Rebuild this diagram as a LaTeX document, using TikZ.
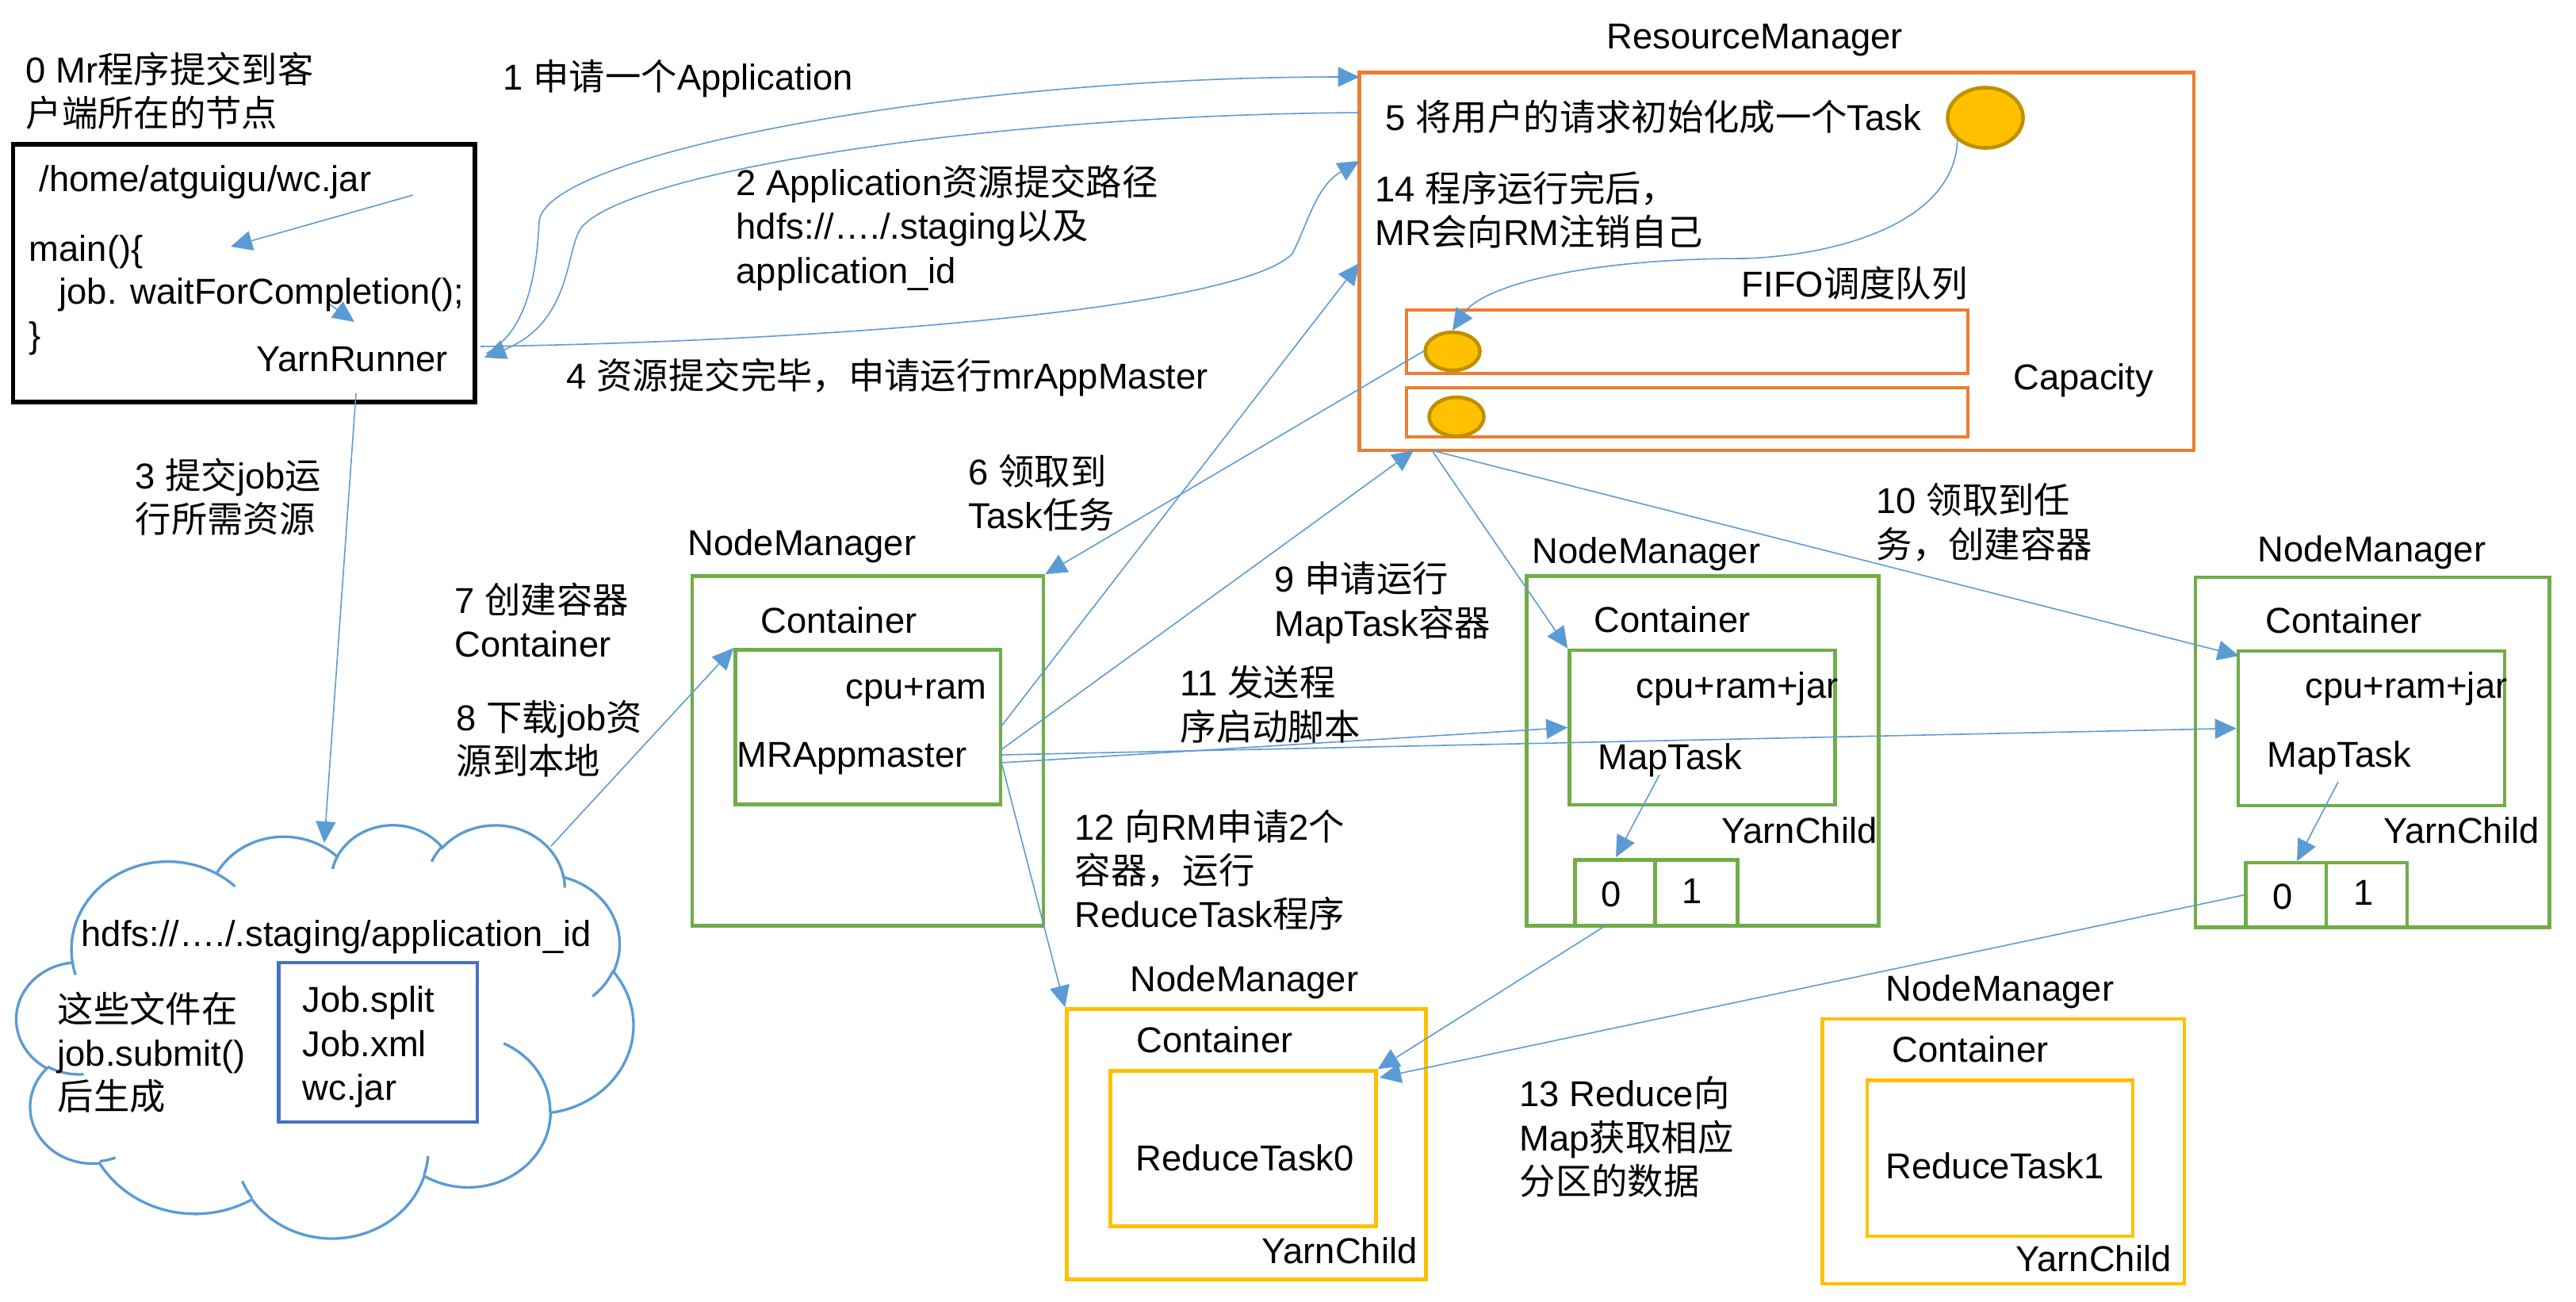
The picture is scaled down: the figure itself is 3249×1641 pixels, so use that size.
\documentclass[tikz,border=0pt]{standalone}
\usepackage{fontspec}
\setmainfont{Liberation Sans}
\newfontfamily\zhfont{Noto Sans CJK SC}
\newcommand\zh[1]{{\zhfont #1}}
\newcommand\fs{\fontsize{12.9pt}{15.65pt}\selectfont}
\usetikzlibrary{arrows.meta,fit,shapes.geometric}
\definecolor{orng}{HTML}{ED7D31}
\definecolor{grn}{HTML}{70AD47}
\definecolor{ylw}{HTML}{FFC000}
\definecolor{lblue}{HTML}{5B9BD5}
\definecolor{dblue}{HTML}{4472C4}
\definecolor{gold}{HTML}{BF9000}
\tikzset{
  conn/.style={draw=lblue, line width=0.45pt, -{Triangle[length=0.27cm,width=0.25cm]}},
  lbl/.style={inner sep=0pt, anchor=base west, align=left, font=\fs},
  frame/.style={inner sep=0pt, draw=#1, line width=1.3pt},
  dotnode/.style={ellipse, inner sep=0pt, fill=ylw, draw=gold, line width=1.3pt},
}
\begin{document}
\begin{tikzpicture}[x=0.01cm, y=-0.01cm]
\useasboundingbox (0,0) rectangle (3249,1641);

% ---------- boxes ----------
\node[inner sep=0pt, draw=black, line width=1.45pt, fit={(16.5,182) (599,507)}] (client) {};
\node[frame=orng, fit={(1714.5,91.5) (2767,568)}] (rm) {};
\node[frame=orng, fit={(1774,391) (2482,471)}] (q1) {};
\node[frame=orng, fit={(1774,489) (2482,551)}] (q2) {};
\node[dotnode, minimum width=0.95cm, minimum height=0.76cm] (task) at (2504,148.5) {};
\node[dotnode, minimum width=0.69cm, minimum height=0.48cm] (q1c) at (1832,443) {};
\node[dotnode, minimum width=0.69cm, minimum height=0.49cm] (q2c) at (1837,525.5) {};

\node[frame=grn, fit={(873,726.5) (1316,1167.5)}] (nm1) {};
\node[frame=grn, fit={(927.5,819.5) (1262,1014.5)}] (mra) {};

\node[frame=grn, fit={(1925.5,726.5) (2369.5,1167.5)}] (nm2) {};
\node[frame=grn, fit={(1979.5,820) (2314.5,1015)}] (nm2in) {};
\node[frame=grn, fit={(1986.5,1084.5) (2087.5,1167.5)}] (nm2c0) {};
\node[frame=grn, fit={(2087.5,1084.5) (2191.5,1167.5)}] (nm2c1) {};

\node[frame=grn, fit={(2768.8,727.8) (3215.5,1169.5)}] (nm3) {};
\node[frame=grn, fit={(2823,821) (3158.8,1016)}] (nm3in) {};
\node[frame=grn, fit={(2832.4,1088) (2934,1169.5)}] (nm3c0) {};
\node[frame=grn, fit={(2934,1088) (3035.8,1169.5)}] (nm3c1) {};

\node[frame=ylw, fit={(1345.5,1272.5) (1798.5,1613.5)}] (nm4) {};
\node[frame=ylw, fit={(1400.5,1350.5) (1735.5,1546.5)}] (rt0) {};
\node[frame=ylw, fit={(2298.7,1285) (2754.8,1619)}] (nm5) {};
\node[frame=ylw, fit={(2354.8,1362.5) (2690,1559)}] (rt1) {};

% ---------- cloud ----------
\begin{scope}[shift={(21,1039)}, x=0.017986cm, y=-0.01206cm]
\draw[draw=lblue, line width=0.95pt, fill=white] (39.00,143.70)
  arc[start angle=172.254, delta angle=128.11, x radius=67.53, y radius=91.90]
  arc[start angle=-152.033, delta angle=106.627, x radius=53.33, y radius=72.67]
  arc[start angle=-153.49, delta angle=116.19, x radius=43.65, y radius=59.45]
  arc[start angle=-139.72, delta angle=129.51, x radius=48.57, y radius=65.95]
  arc[start angle=-74.77, delta angle=97.98, x radius=53.33, y radius=72.73]
  arc[start angle=-37.52, delta angle=119.38, x radius=67.75, y radius=92.20]
  arc[start angle=0.46, delta angle=121.52, x radius=57.85, y radius=78.67]
  arc[start angle=16.84, delta angle=129.38, x radius=67.52, y radius=92.15]
  arc[start angle=58.99, delta angle=91.19, x radius=77.20, y radius=105.43]
  arc[start angle=-276.69, delta angle=139.77, x radius=43.60, y radius=59.18]
  arc[start angle=-239.64, delta angle=143.75, x radius=43.45, y radius=59.45]
  -- cycle;
\draw[draw=lblue, line width=0.95pt]
  (46.93,261.77) arc[start angle=85.546, delta angle=34.81, x radius=43.45, y radius=59.45]
  (69.28,348.99) arc[start angle=68.235, delta angle=15.07, x radius=43.60, y radius=59.18]
  (164.78,390.90) arc[start angle=146.22, delta angle=12.26, x radius=67.52, y radius=92.15]
  (288.27,347.51) arc[start angle=4.738, delta angle=12.10, x radius=67.52, y radius=92.15]
  (341.29,229.54) arc[start angle=-64.03, delta angle=64.49, x radius=57.85, y radius=78.67]
  (417.98,153.54) arc[start angle=23.21, delta angle=26.44, x radius=53.33, y radius=72.73]
  (383.24,54.26) arc[start angle=-10.21, delta angle=11.03, x radius=48.57, y radius=65.95]
  (290.78,39.52) arc[start angle=-156.27, delta angle=16.55, x radius=48.57, y radius=65.95]
  (221.41,47.20) arc[start angle=-167.725, delta angle=14.24, x radius=43.65, y radius=59.45]
  (140.00,51.92) arc[start angle=-59.636, delta angle=13.91, x radius=67.53, y radius=91.90]
  (41.27,157.89) arc[start angle=163.20, delta angle=9.05, x radius=67.53, y radius=91.90];
\end{scope}
\node[inner sep=0pt, draw=dblue, line width=1.2pt, fit={(351.5,1214) (602,1415)}] (files) {};

% ---------- connector end points ----------
\coordinate (a1s) at (613,446);
\coordinate (a1e) at (1714.5,97);
\coordinate (a2s) at (1714.5,142);
\coordinate (a2e) at (611,451);
\coordinate (a4s) at (606,437);
\coordinate (a4e) at (1714.5,203);
\coordinate (j1) at (521,246);
\coordinate (j2) at (291,311);
\coordinate (w1) at (412,381);
\coordinate (w2) at (447,406);
\coordinate (yr) at (449,496);
\coordinate (cloudtop) at (409,1063);
\coordinate (cloudne) at (695,1067);
\coordinate (mr14) at (1262,917);
\coordinate (mr9) at (1262,946);
\coordinate (mr11b) at (1262,952);
\coordinate (mr11a) at (1262,962);
\coordinate (mr12) at (1264,965);
\coordinate (rm14) at (1714.5,332);
\coordinate (rm9) at (1783,568);
\coordinate (rm10) at (1806,568);
\coordinate (nm3tip) at (2824,827);
\coordinate (mt2) at (2093,977);
\coordinate (mt2e) at (2038,1081);
\coordinate (mt3) at (2949,986);
\coordinate (mt3e) at (2897,1086);
\coordinate (c0s) at (2024,1168);
\coordinate (rt0b) at (1740,1359);

% ---------- connectors ----------
\draw[conn] (a1s) .. controls (660,420) and (676,360) .. (680,280) .. controls (684,195) and (1200,97) .. (a1e);
\draw[conn] (a2s) .. controls (1250,145) and (800,215) .. (735,285) .. controls (712,310) and (725,405) .. (a2e);
\draw[conn] (a4s) .. controls (1050,430) and (1560,390) .. (1630,320) .. controls (1650,280) and (1660,235) .. (a4e);
\draw[conn] (j1) -- (j2);
\draw[conn] (w1) -- (w2);
\draw[conn] (yr) -- (cloudtop);
\draw[conn] (task.south west) .. controls (2465,280) and (2320,322) .. (2200,326) .. controls (2000,326) and (1870,360) .. (q1c.north);
\draw[conn] (q1c.west) -- (nm1.north east);
\draw[conn] (mr14) -- (rm14);
\draw[conn] (mr9) -- (rm9);
\draw[conn] (cloudne) -- (mra.north west);
\draw[conn] (rm10) -- (nm2in.north west);
\draw[conn] (rm10) -- (nm3tip);
\draw[conn] (mr11a) -- (nm2in.west);
\draw[conn] (mr11b) -- (nm3in.west);
\draw[conn] (mr12) -- (nm4.north west);
\draw[conn] (mt2) -- (mt2e);
\draw[conn] (mt3) -- (mt3e);
\draw[conn] (c0s) -- (rt0.north east);
\draw[conn] (nm3c0.west) -- (rt0b);

% ---------- texts (base = last line's baseline) ----------
\node[lbl] (t0) at (32,159.5) {0 Mr\zh{程序提交到客}\\\zh{户端所在的节点}};
\node[lbl] (t1) at (634,113) {1 \zh{申请一个}Application};
\node[lbl] (t2) at (928,357) {2 Application\zh{资源提交路径}\\hdfs://…./.staging\zh{以及}\\application\_id};
\node[lbl] (t4) at (714,490) {4 \zh{资源提交完毕，申请运行}mrAppMaster};
\node[lbl] (t5) at (1747,164.5) {5 \zh{将用户的请求初始化成一个}Task};
\node[lbl] (t14) at (1734,309.5) {14 \zh{程序运行完后，}\\MR\zh{会向}RM\zh{注销自己}};
\node[lbl] (fifo) at (2196,374) {FIFO\zh{调度队列}};
\node[lbl] (capa) at (2539,491) {Capacity};
\node[lbl] (rmlbl) at (2026,61) {ResourceManager};

\node[lbl] (home) at (49,241) {/home/atguigu/wc.jar};
\node[lbl] (mainf) at (36,329) {main()\{};
\node[lbl] (jobw) at (74,383) {job. waitForCompletion();};
\node[lbl] (brace) at (36,438) {\}};
\node[lbl] (yarn) at (323,468) {YarnRunner};

\node[lbl] (t3) at (170,671.5) {3 \zh{提交}job\zh{运}\\\zh{行所需资源}};
\node[lbl] (t7) at (573,828.5) {7 \zh{创建容器}\\Container};
\node[lbl] (t8) at (575,976.7) {8 \zh{下载}job\zh{资}\\\zh{源到本地}};
\node[lbl] (hdfs) at (102,1193) {hdfs://…./.staging/application\_id};
\node[lbl] (gen) at (72,1399.5) {\zh{这些文件在}\\job.submit()\\\zh{后生成}};
\node[lbl] (jobs) at (381,1387) {Job.split\\Job.xml\\wc.jar};

\node[lbl] (t6) at (1221,666.6) {6 \zh{领取到}\\Task\zh{任务}};
\node[lbl] (t9) at (1607,802) {9 \zh{申请运行}\\MapTask\zh{容器}};
\node[lbl] (t11) at (1488,933) {11 \zh{发送程}\\\zh{序启动脚本}};
\node[lbl] (t10) at (2366,703) {10 \zh{领取到任}\\\zh{务，创建容器}};
\node[lbl] (t12) at (1355,1169.5) {12 \zh{向}RM\zh{申请}2\zh{个}\\\zh{容器，运行}\\ReduceTask\zh{程序}};
\node[lbl] (t13) at (1916,1506) {13 Reduce\zh{向}\\Map\zh{获取相应}\\\zh{分区的数据}};

\node[lbl] (nm1l) at (867,700) {NodeManager};
\node[lbl] (nm1c) at (959,798) {Container};
\node[lbl] (nm1r) at (1066,881) {cpu+ram};
\node[lbl] (nm1m) at (929,967) {MRAppmaster};

\node[lbl] (nm2l) at (1932,710) {NodeManager};
\node[lbl] (nm2c) at (2010,797) {Container};
\node[lbl] (nm2r) at (2063,880) {cpu+ram+jar};
\node[lbl] (nm2m) at (2015,970) {MapTask};
\node[lbl] (nm2y) at (2171,1063) {YarnChild};
\node[lbl] (nm2z) at (2019,1143) {0};
\node[lbl] (nm2o) at (2121,1139) {1};

\node[lbl] (nm3l) at (2847,708) {NodeManager};
\node[lbl] (nm3c) at (2857,798) {Container};
\node[lbl] (nm3r) at (2907,880) {cpu+ram+jar};
\node[lbl] (nm3m) at (2859,967) {MapTask};
\node[lbl] (nm3y) at (3006,1063) {YarnChild};
\node[lbl] (nm3z) at (2866,1146) {0};
\node[lbl] (nm3o) at (2968,1141) {1};

\node[lbl] (nm4l) at (1425,1250) {NodeManager};
\node[lbl] (nm4c) at (1433,1327) {Container};
\node[lbl] (nm4r) at (1432,1476) {ReduceTask0};
\node[lbl] (nm4y) at (1591,1593) {YarnChild};

\node[lbl] (nm5l) at (2378,1262) {NodeManager};
\node[lbl] (nm5c) at (2386,1339) {Container};
\node[lbl] (nm5r) at (2378,1486) {ReduceTask1};
\node[lbl] (nm5y) at (2542,1603) {YarnChild};
\end{tikzpicture}
\end{document}
